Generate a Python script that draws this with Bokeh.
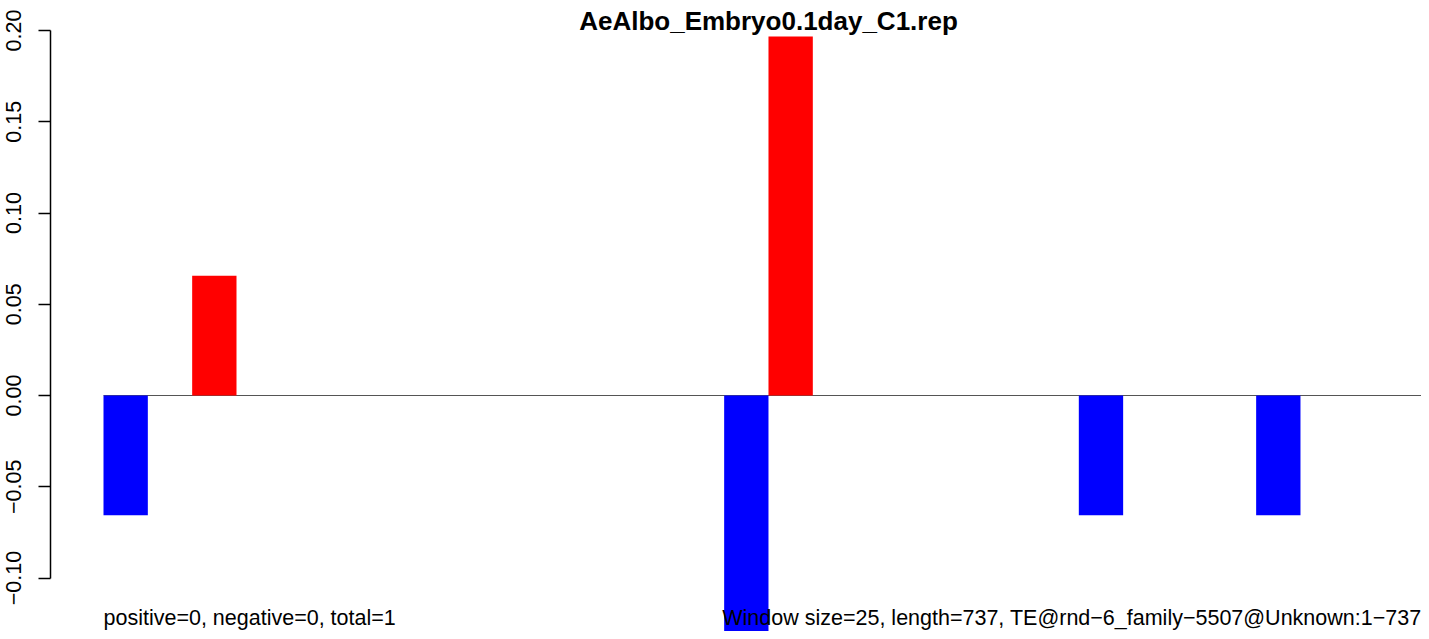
from bokeh.plotting import figure
from bokeh.models import Range1d, FixedTicker
from bokeh.core.properties import value
from bokeh.embed import file_html
from bokeh.resources import INLINE

# ---- data ----
title_text = "AeAlbo_Embryo0.1day_C1.rep"
window_size = 25
te_length = 737
info_text = "Window size=25, length=737, TE@rnd\u22126_family\u22125507@Unknown:1\u2212737"
summary_text = "positive=0, negative=0, total=1"

neg_starts = [0, 350, 550, 650]
neg_values = [-0.0656, -0.1311, -0.0656, -0.0656]
pos_starts = [50, 375]
pos_values = [0.0656, 0.1967]

y_ticks = [-0.10, -0.05, 0.00, 0.05, 0.10, 0.15, 0.20]
y_tick_labels = ["\u22120.10", "\u22120.05", "0.00", "0.05", "0.10", "0.15", "0.20"]

# ---- layout ----
W, H = 1421, 631
FRAME_LEFT = 50
PX_PER_BP = 1.7733
PX_PER_UNIT = 1825.0
ZERO_BP_PX = 103         # figure px where bp 0 sits
ZERO_Y_PX = 395          # figure px where y=0 sits

x_start = -(ZERO_BP_PX - FRAME_LEFT) / PX_PER_BP
x_end = x_start + (W - FRAME_LEFT) / PX_PER_BP
y_end = ZERO_Y_PX / PX_PER_UNIT
y_start = y_end - H / PX_PER_UNIT

FONT = "Liberation Sans"

p = figure(width=W, height=H, output_backend="svg", toolbar_location=None,
           x_range=Range1d(x_start, x_end), y_range=Range1d(y_start, y_end),
           x_axis_location=None, y_axis_location="left",
           min_border_left=FRAME_LEFT, min_border_right=0,
           min_border_top=0, min_border_bottom=0)
p.grid.visible = False
p.outline_line_color = None
p.background_fill_color = "white"
p.border_fill_color = "white"

ax = p.yaxis[0]
ax.ticker = FixedTicker(ticks=y_ticks)
ax.major_label_overrides = {t: l for t, l in zip(y_ticks, y_tick_labels)}
ax.bounds = (min(y_ticks), max(y_ticks))
ax.major_label_orientation = "vertical"
ax.major_label_text_font = FONT
ax.major_label_text_font_size = "21.5px"
ax.major_label_text_color = "black"
ax.major_label_standoff = 18
ax.major_tick_out = 12
ax.major_tick_in = 0
ax.minor_tick_line_color = None
ax.axis_line_color = "black"
ax.axis_line_width = 1.5
ax.major_tick_line_width = 1.5
ax.major_tick_line_color = "black"

# zero line
p.segment(x0=[0], y0=[0], x1=[te_length + window_size], y1=[0],
          line_color="#555555", line_width=1)

# bars
p.vbar(x=[s + window_size / 2 for s in neg_starts], width=window_size,
       top=[0] * len(neg_values), bottom=neg_values,
       fill_color="blue", line_color=None)
p.vbar(x=[s + window_size / 2 for s in pos_starts], width=window_size,
       top=pos_values, bottom=[0] * len(pos_values),
       fill_color="red", line_color=None)

# texts
text_y = y_start + 14 / PX_PER_UNIT
p.text(x=[0], y=[text_y], text=[summary_text], text_font=value(FONT),
       text_font_size="21.5px", text_align="left", text_baseline="alphabetic",
       text_color="black")
p.text(x=[x_end], y=[text_y], text=[info_text], text_font=value(FONT),
       text_font_size="21.5px", text_align="right", text_baseline="alphabetic",
       text_color="black")
p.text(x=[375], y=[y_end - 20 / PX_PER_UNIT], text=[title_text],
       text_font=value(FONT), text_font_size="26px", text_font_style="bold",
       text_align="center", text_baseline="alphabetic", text_color="black")

open("out.html", "w").write(file_html(p, INLINE))
